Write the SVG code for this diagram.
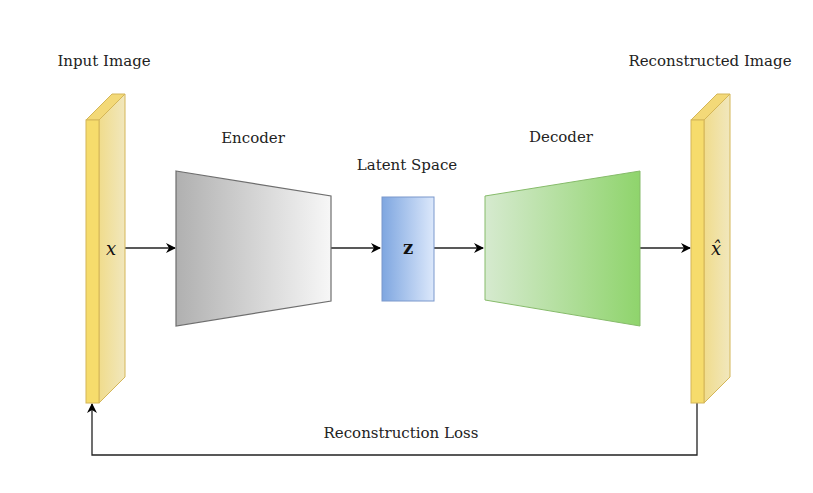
<svg xmlns="http://www.w3.org/2000/svg" width="813" height="493" viewBox="0 0 813 493">
<defs>
<linearGradient id="gEnc" x1="0" y1="0" x2="1" y2="0"><stop offset="0" stop-color="#b0b0b0"/><stop offset="1" stop-color="#f7f7f7"/></linearGradient>
<linearGradient id="gZ" x1="0" y1="0" x2="1" y2="0"><stop offset="0" stop-color="#7ea6e0"/><stop offset="1" stop-color="#dce8fb"/></linearGradient>
<linearGradient id="gDec" x1="0" y1="0" x2="1" y2="0"><stop offset="0" stop-color="#d6eacf"/><stop offset="1" stop-color="#8fd46c"/></linearGradient>
<linearGradient id="gSide" x1="0" y1="0" x2="1" y2="0"><stop offset="0" stop-color="#f0dc8c"/><stop offset="1" stop-color="#f1e7bd"/></linearGradient>
<marker id="arr" viewBox="0 0 10 10" refX="9" refY="5" markerWidth="10" markerHeight="10" markerUnits="userSpaceOnUse" orient="auto">
<path d="M0,0 L10,5 L0,10 L3,5 Z" fill="#000"/>
</marker>
<style>
.lbl{font-family:"DejaVu Serif","Liberation Serif",serif;font-size:15px;fill:#222;text-anchor:middle}
.math{font-family:"DejaVu Serif","Liberation Serif",serif;font-size:18px;font-style:italic;fill:#111;text-anchor:middle}
.edge{fill:none;stroke:#222;stroke-width:1.3}
.front{fill:#f6dc6c;stroke:#d4b658;stroke-width:1}
.side{fill:url(#gSide);stroke:#d4b658;stroke-width:1}
.top{fill:#f3d978;stroke:#d4b658;stroke-width:1}
</style>
</defs>
<rect width="813" height="493" fill="#fff"/>
<g id="edges">
<path class="edge" d="M125,248 H175" marker-end="url(#arr)"/>
<path class="edge" d="M331,248 H380" marker-end="url(#arr)"/>
<path class="edge" d="M434,248 H483" marker-end="url(#arr)"/>
<path class="edge" d="M640,248 H690" marker-end="url(#arr)"/>
<path class="edge" d="M697,403 V455 H92 V404" marker-end="url(#arr)"/>
</g>
<g id="input">
<polygon class="side" points="99,120 125,94 125,377 99,403"/>
<polygon class="top" points="86,120 112,94 125,94 99,120"/>
<rect class="front" x="86" y="120" width="13" height="283"/>
<text class="math" x="111" y="255">x</text>
<text class="lbl" x="104" y="66">Input Image</text>
</g>
<g id="encoder">
<polygon points="176,171 331,196 331,301 176,326" fill="url(#gEnc)" stroke="#6e6e6e" stroke-width="1.2"/>
<text class="lbl" x="253" y="143">Encoder</text>
</g>
<g id="latent">
<rect x="382" y="197" width="52" height="104" fill="url(#gZ)" stroke="#7a98cc" stroke-width="1"/>
<text x="408" y="254" font-family="DejaVu Serif, Liberation Serif, serif" font-size="18" font-weight="bold" fill="#111" text-anchor="middle">z</text>
<text class="lbl" x="407" y="170">Latent Space</text>
</g>
<g id="decoder">
<polygon points="485,196 640,171 640,326 485,300" fill="url(#gDec)" stroke="#86bb6a" stroke-width="1"/>
<text class="lbl" x="561" y="142">Decoder</text>
</g>
<g id="output">
<polygon class="side" points="704,120 730,94 730,377 704,403"/>
<polygon class="top" points="691,120 717,94 730,94 704,120"/>
<rect class="front" x="691" y="120" width="13" height="283"/>
<text class="math" x="716" y="255">x̂</text>
<text class="lbl" x="710" y="66">Reconstructed Image</text>
</g>
<g id="loss-label">
<text class="lbl" x="401" y="438">Reconstruction Loss</text>
</g>
</svg>
